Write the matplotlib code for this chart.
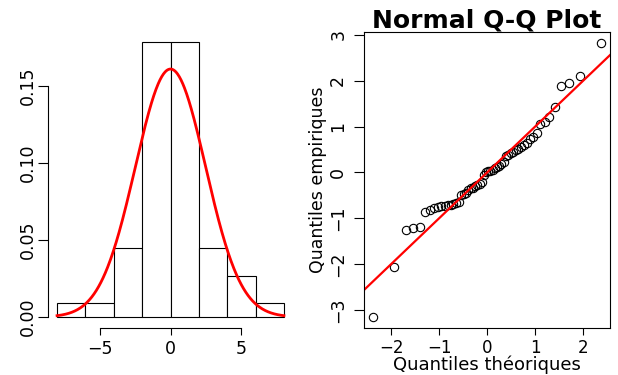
import numpy as np
import matplotlib
matplotlib.use("Agg")
import matplotlib.pyplot as plt
from statistics import NormalDist

# ---------------- data ----------------
# Histogram (left panel)
bin_edges = [-8, -6, -4, -2, 0, 2, 4, 6, 8]
bin_counts = [1, 1, 5, 20, 20, 5, 3, 1]
curve_mean = 0.0
curve_sd = 2.475
hist_xticks = [-5, 0, 5]
hist_yticks = [0.00, 0.05, 0.10, 0.15]
hist_yticklabels = ["0.00", "0.05", "0.10", "0.15"]

# Q-Q plot (right panel): sorted empirical sample
qq_sample = [-3.16, -2.07, -1.25, -1.22, -1.20, -0.87, -0.82, -0.78, -0.76, -0.74,
             -0.73, -0.72, -0.70, -0.68, -0.66, -0.65, -0.50, -0.48, -0.45, -0.38,
             -0.35, -0.33, -0.30, -0.28, -0.25, -0.20, -0.05, 0.01, 0.02, 0.04,
             0.06, 0.09, 0.12, 0.15, 0.18, 0.22, 0.35, 0.38, 0.42, 0.45,
             0.48, 0.52, 0.56, 0.60, 0.65, 0.72, 0.78, 0.86, 1.05, 1.10,
             1.20, 1.43, 1.88, 1.94, 2.10, 2.82]
qq_line_intercept = 0.0
qq_line_slope = 1.0
qq_xticks = [-2, -1, 0, 1, 2]
qq_yticks = [-3, -2, -1, 0, 1, 2, 3]
qq_title = "Normal Q-Q Plot"
qq_xlabel = "Quantiles théoriques"
qq_ylabel = "Quantiles empiriques"

# ---------------- figure ----------------
plt.rcParams['font.family'] = ['DejaVu Sans']
fig = plt.figure(figsize=(6.18, 3.75), dpi=100)
W, H = 618, 375

def ax_rect(x0, y0, x1, y1):
    return [x0 / W, 1 - y1 / H, (x1 - x0) / W, (y1 - y0) / H]

tick_fs = 12.5

# ---- left: histogram ----
ax1 = fig.add_axes(ax_rect(48, 31.3, 293, 328))
edges = np.array(bin_edges, dtype=float)
counts = np.array(bin_counts, dtype=float)
centers = (edges[:-1] + edges[1:]) / 2
ax1.hist(centers, bins=edges, weights=counts, density=True,
         facecolor="white", edgecolor="black", linewidth=0.8)
xs = np.linspace(edges[0], edges[-1], 400)
dens = np.exp(-0.5 * ((xs - curve_mean) / curve_sd) ** 2) / (curve_sd * np.sqrt(2 * np.pi))
ax1.plot(xs, dens, color="#ff0000", lw=2.0)
xr = edges[-1] - edges[0]
ax1.set_xlim(edges[0] - 0.04 * xr, edges[-1] + 0.04 * xr)
ymax = (counts / (counts.sum() * np.diff(edges))).max()
ax1.set_ylim(-0.04 * ymax, ymax * 1.04)
for s in ["top", "right"]:
    ax1.spines[s].set_visible(False)
ax1.spines["left"].set_bounds(hist_yticks[0], hist_yticks[-1])
ax1.spines["bottom"].set_bounds(hist_xticks[0], hist_xticks[-1])
for s in ["left", "bottom"]:
    ax1.spines[s].set_linewidth(0.8)
ax1.set_xticks(hist_xticks)
ax1.set_yticks(hist_yticks)
ax1.set_yticklabels(hist_yticklabels)
ax1.tick_params(axis="y", length=7, width=0.8, pad=1, labelsize=tick_fs, labelrotation=90)
ax1.tick_params(axis="x", length=5, width=0.8, pad=3.6, labelsize=tick_fs)
for lab in ax1.get_yticklabels():
    lab.set_va("center")

# ---- right: Q-Q plot ----
ax2 = fig.add_axes(ax_rect(364.3, 32.1, 610, 328.3))
y = np.sort(np.array(qq_sample))
n = len(y)
nd = NormalDist()
tq = np.array([nd.inv_cdf((i - 0.5) / n) for i in range(1, n + 1)])
ax2.plot(tq, y, linestyle="none", marker="o", ms=6.0, mfc="none",
         mec="black", mew=0.8)
ax2.axline((0, qq_line_intercept), slope=qq_line_slope, color="#ff0000", lw=1.6)
txr = tq.max() - tq.min()
ax2.set_xlim(tq.min() - 0.04 * txr, tq.max() + 0.04 * txr)
yr = y.max() - y.min()
ax2.set_ylim(y.min() - 0.04 * yr, y.max() + 0.04 * yr)
ax2.set_xticks(qq_xticks)
ax2.set_yticks(qq_yticks)
for s in ax2.spines.values():
    s.set_linewidth(0.8)
ax2.tick_params(axis="y", length=7, width=0.8, pad=5.3, labelsize=tick_fs, labelrotation=90)
ax2.tick_params(axis="x", length=5, width=0.8, pad=3.0, labelsize=12)
for lab in ax2.get_yticklabels():
    lab.set_va("center")
ax2.set_title(qq_title, fontsize=18, fontweight="bold", pad=2.7)
ax2.set_xlabel(qq_xlabel, fontsize=13)
ax2.xaxis.label.set_va("baseline")
ax2.xaxis.set_label_coords(0.5, (328.3 - 370.3) / (328.3 - 32.1))
ax2.set_ylabel(qq_ylabel, fontsize=12.5)
ax2.yaxis.set_label_coords((327.0 - 364.3) / (610 - 364.3), 0.5)

fig.savefig("out.png", dpi=100)
